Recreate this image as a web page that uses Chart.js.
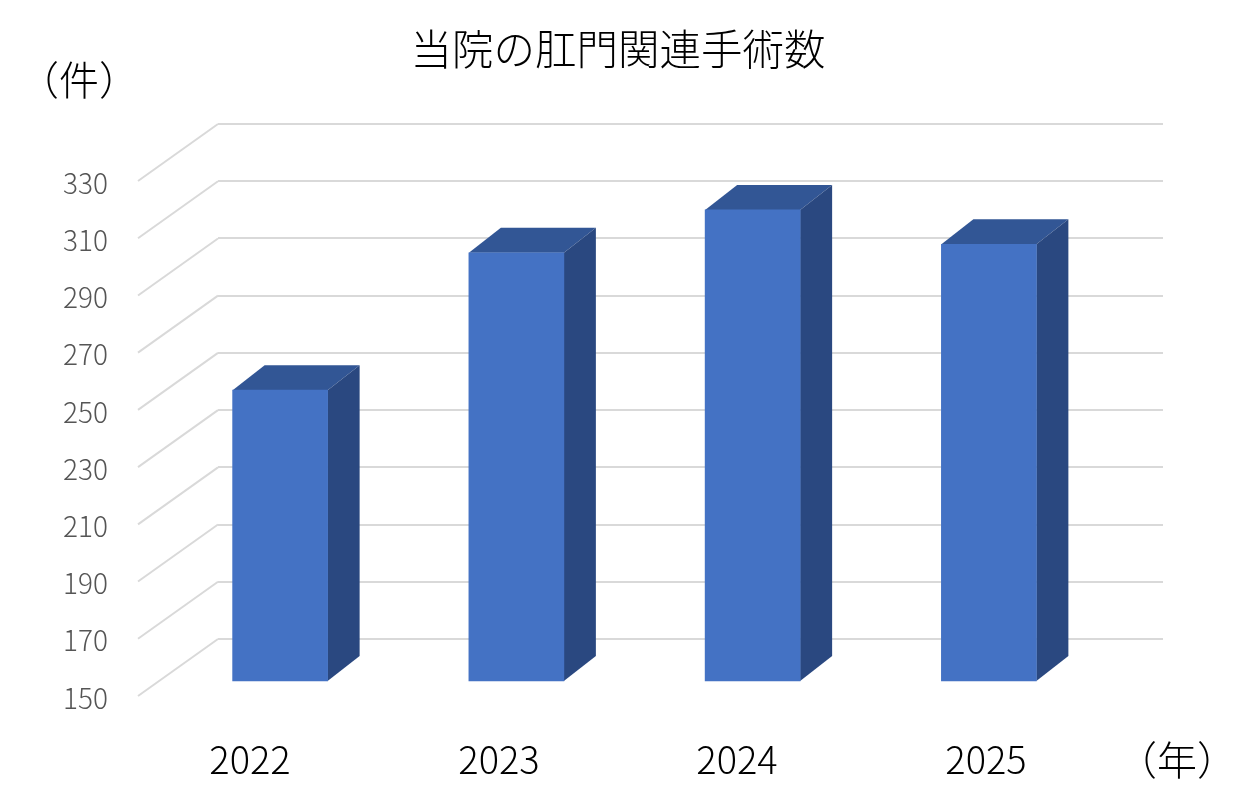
<!DOCTYPE html>
<html lang="ja">
<head>
<meta charset="utf-8">
<title>当院の肛門関連手術数</title>
<script src="https://cdn.jsdelivr.net/npm/chart.js@4"></script>
<style>
  html, body { margin: 0; padding: 0; background: #fff; }
  canvas { display: block; }
</style>
</head>
<body>
<canvas id="surgeryChart" width="1256" height="808"></canvas>
<script>
const years = ['2022', '2023', '2024', '2025'];
const surgeries = [252, 300, 315, 303];
const yTicks = [150, 170, 190, 210, 230, 250, 270, 290, 310, 330];

const CJK = '"Noto Sans CJK JP", "Noto Sans", sans-serif';

// the bars stand in front of the back wall, the grid stays on the wall
const frontX = -56, frontY = 43;
const depthX = 32, depthY = 25;
const floorX = -80, floorY = 57;
// the year labels are not evenly spaced in the original
const yearLabelX = [250, 499, 737, 986];

const wall3d = {
  id: 'wall3d',
  beforeDatasetsDraw(chart) {
    const { ctx, scales: { y }, chartArea } = chart;
    // diagonal lines on the side wall
    ctx.save();
    ctx.strokeStyle = '#d9d9d9';
    ctx.lineWidth = 2;
    yTicks.forEach(v => {
      const py = y.getPixelForValue(v);
      ctx.beginPath();
      ctx.moveTo(chartArea.left, py);
      ctx.lineTo(chartArea.left + floorX, py + floorY);
      ctx.stroke();
    });
    ctx.restore();

    // top and side faces, then the library draws the front face on top
    const bars = chart.getDatasetMeta(0).data;
    ctx.save();
    bars.forEach(bar => {
      const p = bar.getProps(['x', 'y', 'base', 'width'], true);
      const l = p.x - p.width / 2 + frontX, r = p.x + p.width / 2 + frontX;
      const t = p.y + frontY, b = p.base + frontY;
      ctx.fillStyle = '#325695';
      ctx.beginPath();
      ctx.moveTo(l, t);
      ctx.lineTo(l + depthX, t - depthY);
      ctx.lineTo(r + depthX, t - depthY);
      ctx.lineTo(r, t);
      ctx.closePath();
      ctx.fill();
      ctx.fillStyle = '#2a4880';
      ctx.beginPath();
      ctx.moveTo(r, t);
      ctx.lineTo(r + depthX, t - depthY);
      ctx.lineTo(r + depthX, b - depthY);
      ctx.lineTo(r, b);
      ctx.closePath();
      ctx.fill();
    });
    ctx.restore();

    ctx.save();
    ctx.translate(frontX, frontY);
  },
  afterDatasetsDraw(chart) {
    chart.ctx.restore();
  },
  afterDraw(chart) {
    const { ctx } = chart;
    ctx.save();
    ctx.fillStyle = '#000';
    ctx.textBaseline = 'middle';
    ctx.textAlign = 'center';
    ctx.font = '300 41.5px ' + CJK;
    ctx.fillText('当院の肛門関連手術数', 618, 49);
    ctx.font = '300 38px ' + CJK;
    years.forEach((year, i) => ctx.fillText(year, yearLabelX[i], 760));
    ctx.font = '300 40px ' + CJK;
    ctx.fillText('（件）', 79, 80);
    ctx.fillText('（年）', 1177, 760);
    ctx.restore();
  }
};

new Chart(document.getElementById('surgeryChart'), {
  type: 'bar',
  data: {
    labels: years,
    datasets: [{
      data: surgeries,
      base: yTicks[0],
      backgroundColor: '#4472c4',
      barThickness: 95,
      clip: false
    }]
  },
  options: {
    responsive: false,
    animation: false,
    events: [],
    layout: { autoPadding: false, padding: { top: 124, right: 93, bottom: 169, left: 0 } },
    plugins: {
      legend: { display: false },
      tooltip: { enabled: false }
    },
    scales: {
      x: { display: false },
      y: {
        min: 150,
        max: 330,
        afterFit(scale) {
          scale.width = 218;
          // tick padding must not push the plot area down
          scale.paddingTop = 0;
          scale.paddingBottom = 0;
        },
        afterBuildTicks(scale) { scale.ticks = yTicks.map(value => ({ value })); },
        border: { display: false },
        grid: { color: '#d9d9d9', lineWidth: 2, drawTicks: false },
        ticks: {
          color: '#555555',
          font: { family: CJK, size: 28, weight: '300' },
          padding: 110,
          labelOffset: 59
        }
      }
    }
  },
  plugins: [wall3d]
});
</script>
</body>
</html>
